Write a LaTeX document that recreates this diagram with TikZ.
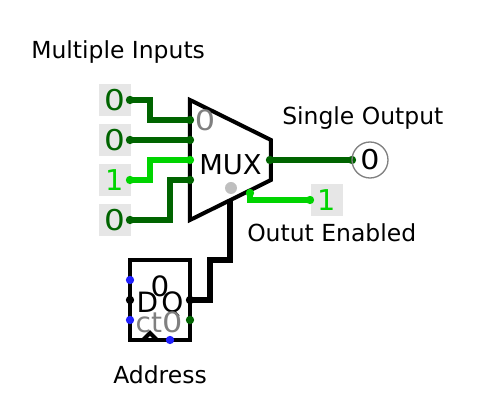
\documentclass[tikz,border=0pt]{standalone}
\usepackage{fontspec}
\setmainfont{DejaVu Sans}
\definecolor{dg}{RGB}{0,100,0}
\definecolor{bg}{RGB}{0,212,0}
\definecolor{boxg}{RGB}{230,230,230}
\definecolor{gr}{RGB}{128,128,128}
\definecolor{pinb}{RGB}{32,32,255}
\newcommand{\widezero}{\scalebox{1.14}[1]{0}}
\tikzset{
 x=0.75pt,y=-0.75pt,
 wire/.style={line width=4.25pt,line join=miter,line cap=butt},
 pin/.style={circle,fill=#1,inner sep=0pt,minimum size=6.25pt,draw=none},
 inbox/.style={fill=boxg,minimum size=24pt,inner sep=0pt,font=\fontsize{21.5}{22}\selectfont,text=#1},
 lbl/.style={font=\fontsize{17.6}{18}\selectfont,anchor=base west,inner sep=0pt},
 big/.style={font=\fontsize{21}{22}\selectfont,inner sep=0pt},
}
\begin{document}
\begin{tikzpicture}
\useasboundingbox (0,0) rectangle (480,420);
% input boxes
\node[inbox=dg] (i1) at (115,100) {\widezero};
\node[inbox=dg] (i2) at (115,140) {\widezero};
\node[inbox=bg] (i3) at (115,180) {1};
\node[inbox=dg] (i4) at (115,220) {\widezero};
\node[inbox=bg] (en) at (327,200) {1};
% pin coordinates
\coordinate (p1) at (130,100);
\coordinate (p2) at (130,140);
\coordinate (p3) at (130,180);
\coordinate (p4) at (130,220);
\coordinate (m1) at (190,120);
\coordinate (m2) at (190,140);
\coordinate (m3) at (190,160);
\coordinate (m4) at (190,180);
\coordinate (mo) at (270,160);
\coordinate (ms) at (230,200);
\coordinate (me) at (250,193);
\coordinate (enp) at (310,200);
\coordinate (q) at (190,300);
\coordinate (op) at (352,160);
% wires
\draw[wire,dg] (p1) -| (150,120) -- (m1);
\draw[wire,dg] (p2) -- (m2);
\draw[wire,bg] (p3) -| (150,160) -- (m3);
\draw[wire,dg] (p4) -| (170,180) -- (m4);
\draw[wire,bg] (me) |- (enp);
\draw[wire,black] (ms) |- (210,260) |- (q);
% mux
\draw[line width=3pt,black,line join=miter] (190,100) -- (271,140) -- (271,180) -- (190,220) -- cycle;
\draw[wire,dg] (mo) -- (op);
\node[pin=dg] at (m1) {};
\node[pin=dg] at (m2) {};
\node[pin=bg] at (m3) {};
\node[pin=dg] at (m4) {};
\node[pin=dg] at (p1) {};
\node[pin=dg] at (p2) {};
\node[pin=bg] at (p3) {};
\node[pin=dg] at (p4) {};
\node[pin=dg] at (mo) {};
\node[pin=bg] at (enp) {};
\node[pin=bg] at (me) {};
\node[pin=dg] at (op) {};
\node[circle,fill=gr!50!white,minimum size=9pt,inner sep=0pt] (sel) at (231,188) {};
\node[big,text=gr] (mv) at (205,120) {\widezero};
\node[big] (mt) at (230.5,165) {\fontsize{20.5}{20}\selectfont MUX};
% output
\node[circle,draw=gr,line width=1pt,minimum size=27pt,inner sep=0pt,font=\fontsize{20.5}{21}\selectfont] (out) at (370,160) {\scalebox{1.1}[1]{0}};
% register
\draw[line width=3pt,black] (130,260) rectangle (190,340);
\draw[line width=3pt,black] (143,340) -- (150,333) -- (157,340);
\node[big] (t0) at (160,286) {\scalebox{1.05}[1]{0}};
\node[big,anchor=base] (td) at (147.5,313) {D};
\node[big,anchor=base] (tq) at (172.5,313) {Q};
\node[big,text=gr,anchor=base] (tc) at (159,333) {ct\widezero};
\node[pin=pinb] at (130,280) {};
\node[pin=black] at (130,300) {};
\node[pin=pinb] at (130,320) {};
\node[pin=black] at (q) {};
\node[pin=dg] at (190,320) {};
\node[pin=pinb] at (170,340) {};
% labels
\node[lbl] (l1) at (31,59) {Multiple Inputs};
\node[lbl] (l2) at (282,125) {Single Output};
\node[lbl] (l3) at (247,242) {Outut Enabled};
\node[lbl] (l4) at (113,384) {Address};
\end{tikzpicture}
\end{document}
